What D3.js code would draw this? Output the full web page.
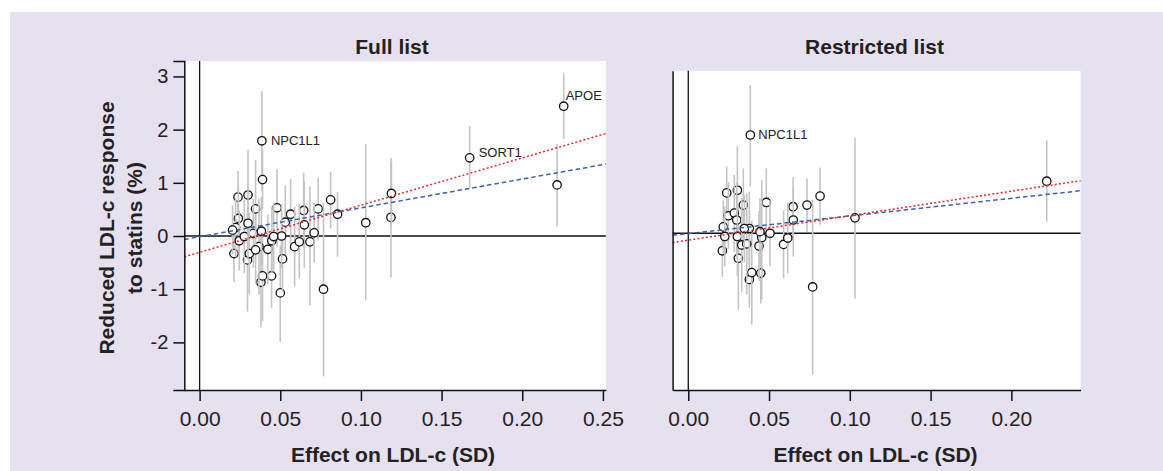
<!DOCTYPE html>
<html>
<head>
<meta charset="utf-8">
<script src="https://cdn.jsdelivr.net/npm/d3@7"></script>
<style>
  html, body { margin: 0; padding: 0; background: #fff; }
  svg { display: block; font-family: "Liberation Sans", Arial, Helvetica, sans-serif; }
  .tick text { fill: #222; }
</style>
</head>
<body>
<svg id="chart" width="1163" height="471"></svg>
<script>
// full list: effect on LDL-c (SD), statin response (%), CI low, CI high
const fullX  = [0.0386, 0.039, 0.0238, 0.030, 0.0347, 0.048, 0.0564, 0.0645, 0.0735, 0.0812,
                0.0855, 0.0531, 0.0649, 0.103, 0.1186, 0.1189, 0.1674, 0.2216, 0.2257, 0.0768,
                0.050, 0.038, 0.039, 0.0446, 0.0514, 0.0297, 0.0213, 0.0589, 0.0618, 0.0684,
                0.0423, 0.0368, 0.0448, 0.0508, 0.0459, 0.024, 0.0223, 0.0246, 0.0277, 0.0333,
                0.0308, 0.0347, 0.0204, 0.071, 0.0383, 0.030];
const fullY  = [1.79, 1.06, 0.73, 0.77, 0.51, 0.53, 0.41, 0.48, 0.51, 0.68,
                0.41, 0.26, 0.21, 0.25, 0.35, 0.80, 1.47, 0.96, 2.44, -1.00,
                -1.07, -0.87, -0.75, -0.75, -0.43, -0.45, -0.33, -0.20, -0.11, -0.11,
                -0.25, -0.20, -0.09, 0.00, -0.01, 0.33, 0.16, -0.09, -0.01, 0.05,
                -0.33, -0.26, 0.11, 0.06, 0.09, 0.24];
const fullLo = [0.85, 0.50, 0.23, -0.08, -0.40, -0.20, -0.25, -0.23, -0.08, 0.14,
                -0.39, -0.45, -0.60, -1.21, -0.78, 0.20, 0.90, 0.18, 1.82, -2.64,
                -1.99, -1.72, -1.60, -1.35, -1.05, -1.42, -0.86, -0.95, -0.80, -1.30,
                -0.90, -1.10, -0.70, -0.60, -0.65, -0.30, -0.40, -0.65, -0.70, -0.60,
                -1.10, -0.90, -0.35, -0.50, -0.55, -0.45];
const fullHi = [2.72, 1.62, 1.22, 1.62, 1.43, 1.26, 1.07, 1.19, 1.10, 1.21,
                0.83, 0.95, 1.02, 1.73, 1.46, 1.40, 2.07, 1.73, 3.07, 0.63,
                -0.18, -0.02, 0.10, -0.15, 0.19, 0.52, 0.20, 0.55, 0.60, 0.93,
                0.40, 0.70, 0.55, 0.60, 0.62, 0.96, 0.72, 0.47, 0.68, 0.70,
                0.44, 0.38, 0.57, 0.62, 0.73, 0.93];
const fullLabels = [[0, "NPC1L1"], [16, "SORT1"], [18, "APOE"]];

// restricted list
const restX  = [0.0384, 0.0238, 0.0304, 0.0341, 0.0483, 0.0649, 0.0735, 0.0816, 0.065, 0.1032,
                0.2219, 0.077, 0.0378, 0.0393, 0.0449, 0.031, 0.0211, 0.059, 0.0616, 0.0438,
                0.0506, 0.0455, 0.0444, 0.0217, 0.0248, 0.0285, 0.030, 0.0226, 0.0304, 0.0331,
                0.0362, 0.0378, 0.0347];
const restY  = [1.85, 0.76, 0.81, 0.53, 0.58, 0.50, 0.53, 0.70, 0.25, 0.29,
                0.98, -1.01, -0.87, -0.74, -0.75, -0.47, -0.33, -0.21, -0.09, -0.24,
                0.00, -0.08, 0.03, 0.12, 0.33, 0.38, 0.25, -0.06, -0.06, -0.22,
                -0.20, 0.09, 0.09];
const restLo = [0.88, 0.26, -0.02, -0.16, -0.06, -0.06, 0.03, 0.16, -0.44, -1.23,
                0.22, -2.66, -1.40, -1.72, -1.32, -1.44, -0.82, -0.85, -0.75, -0.90,
                -0.62, -1.25, -0.60, -0.38, -0.30, -0.35, -0.45, -0.62, -0.80, -1.10,
                -1.15, -0.60, -0.55];
const restHi = [2.79, 1.26, 1.64, 1.22, 1.22, 1.06, 1.03, 1.24, 0.85, 1.80,
                1.75, 0.63, -0.02, 0.24, -0.18, 0.50, 0.16, 0.43, 0.58, 0.42,
                0.62, 1.00, 0.66, 0.62, 0.96, 1.10, 0.95, 0.50, 0.68, 0.66,
                0.75, 0.78, 0.73];
const restLabels = [[0, "NPC1L1"]];

// fitted lines: [intercept, slope]
const fullBlue = [-0.013, 5.42], fullRed = [-0.307, 8.87];
const restBlue = [-0.006, 3.32], restRed = [-0.13, 4.61];

const fullXTicks = [0, 0.05, 0.10, 0.15, 0.20, 0.25];
const restXTicks = [0, 0.05, 0.10, 0.15, 0.20];
const yTicks = [-2, -1, 0, 1, 2, 3];

const svg = d3.select("#chart");

svg.append("rect")
  .attr("x", 10).attr("y", 12)
  .attr("width", 1153).attr("height", 459)
  .attr("fill", "#e6e0ef");

function drawPanel(p) {
  const xScale = d3.scaleLinear().domain(p.xDomain).range([p.left, p.right]);
  const yScale = d3.scaleLinear().domain(p.yDomain).range([p.bottom, p.top]);

  // white plot area
  svg.append("rect")
    .attr("x", p.left).attr("y", p.top)
    .attr("width", p.right - p.left).attr("height", p.bottom - p.top)
    .attr("fill", "#fff");

  // reference lines at 0
  svg.append("line")
    .attr("x1", p.left).attr("x2", p.right)
    .attr("y1", yScale(0)).attr("y2", yScale(0))
    .attr("stroke", "#111").attr("stroke-width", 1.3);
  svg.append("line")
    .attr("x1", xScale(0)).attr("x2", xScale(0))
    .attr("y1", p.top).attr("y2", p.bottom)
    .attr("stroke", "#111").attr("stroke-width", 1.3);

  // points with error bars
  const data = p.x.map(function(d, i) {
    return {x: d, y: p.y[i], lo: p.lo[i], hi: p.hi[i]};
  });
  const pt = svg.append("g").selectAll("g")
    .data(data)
    .enter().append("g");
  pt.append("line")
    .attr("x1", d => xScale(d.x)).attr("x2", d => xScale(d.x))
    .attr("y1", d => yScale(d.lo)).attr("y2", d => yScale(d.hi))
    .attr("stroke", "#c4c4c4").attr("stroke-width", 1.6);
  pt.append("circle")
    .attr("cx", d => xScale(d.x)).attr("cy", d => yScale(d.y))
    .attr("r", 4.2)
    .attr("fill", "#fff")
    .attr("stroke", "#111").attr("stroke-width", 1.3);

  // fitted lines
  const x0 = p.xDomain[0], x1 = p.xDomain[1];
  [[p.blue, "#3f5fb0", "4.5,3"], [p.red, "#e8282c", "2,2.2"]].forEach(function(l) {
    svg.append("line")
      .attr("x1", xScale(x0)).attr("y1", yScale(l[0][0] + l[0][1] * x0))
      .attr("x2", xScale(x1)).attr("y2", yScale(l[0][0] + l[0][1] * x1))
      .attr("stroke", l[1]).attr("stroke-width", 1.5)
      .attr("stroke-dasharray", l[2]);
  });

  // gene labels
  p.labels.forEach(function(l) {
    const d = data[l[0]];
    const off = p.labelOffsets[l[0]] || [8, 4.5];
    svg.append("text")
      .attr("x", xScale(d.x) + off[0]).attr("y", yScale(d.y) + off[1])
      .attr("font-size", 13).attr("fill", "#222")
      .text(l[1]);
  });

  // axes
  svg.append("g")
    .attr("transform", "translate(0," + p.bottom + ")")
    .call(d3.axisBottom(xScale).tickValues(p.xTicks).tickFormat(d3.format(".2f"))
      .tickSize(11).tickSizeOuter(0).tickPadding(10))
    .call(g => g.selectAll("text").attr("font-size", 21).attr("font-family", null))
    .call(g => g.selectAll("line, path").attr("stroke", "#111").attr("stroke-width", 1.5));

  const yAxis = d3.axisLeft(yScale).tickSizeOuter(0).tickFormat(d => String(d));
  if (p.yTicks) yAxis.tickValues(p.yTicks).tickSize(11).tickPadding(5);
  else yAxis.tickValues([]);
  svg.append("g")
    .attr("transform", "translate(" + p.left + ",0)")
    .call(yAxis)
    .call(g => g.selectAll("text").attr("font-size", 20).attr("font-family", null))
    .call(g => g.selectAll("line, path").attr("stroke", "#111").attr("stroke-width", 1.5));

  // titles
  svg.append("text")
    .attr("x", p.titleX).attr("y", 54)
    .attr("text-anchor", "middle")
    .attr("font-size", 21).attr("font-weight", "bold").attr("fill", "#222")
    .text(p.title);
  svg.append("text")
    .attr("x", p.titleX + 1).attr("y", 462)
    .attr("text-anchor", "middle")
    .attr("font-size", 21).attr("font-weight", "bold").attr("fill", "#222")
    .text("Effect on LDL-c (SD)");
}

drawPanel({
  title: "Full list", titleX: 392,
  left: 184.3, right: 605.8, top: 61, bottom: 390,
  xDomain: [-0.0095, 0.2518], yDomain: [-2.895, 3.29],
  x: fullX, y: fullY, lo: fullLo, hi: fullHi,
  blue: fullBlue, red: fullRed,
  labels: fullLabels,
  labelOffsets: {0: [9, 4.5], 16: [9, -1], 18: [2, -6]},
  xTicks: fullXTicks, yTicks: yTicks
});

drawPanel({
  title: "Restricted list", titleX: 874.5,
  left: 672.6, right: 1080.5, top: 70.7, bottom: 390,
  xDomain: [-0.0097, 0.2428], yDomain: [-2.95, 3.06],
  x: restX, y: restY, lo: restLo, hi: restHi,
  blue: restBlue, red: restRed,
  labels: restLabels,
  labelOffsets: {0: [8, 4.5]},
  xTicks: restXTicks, yTicks: null
});

// y axis title
const yTitle = svg.append("text")
  .attr("transform", "translate(121,228) rotate(-90)")
  .attr("text-anchor", "middle")
  .attr("font-size", 21).attr("font-weight", "bold").attr("fill", "#222");
yTitle.append("tspan").attr("x", 0).attr("y", -7).text("Reduced LDL-c response");
yTitle.append("tspan").attr("x", 0).attr("y", 21).text("to statins (%)");
</script>
</body>
</html>
